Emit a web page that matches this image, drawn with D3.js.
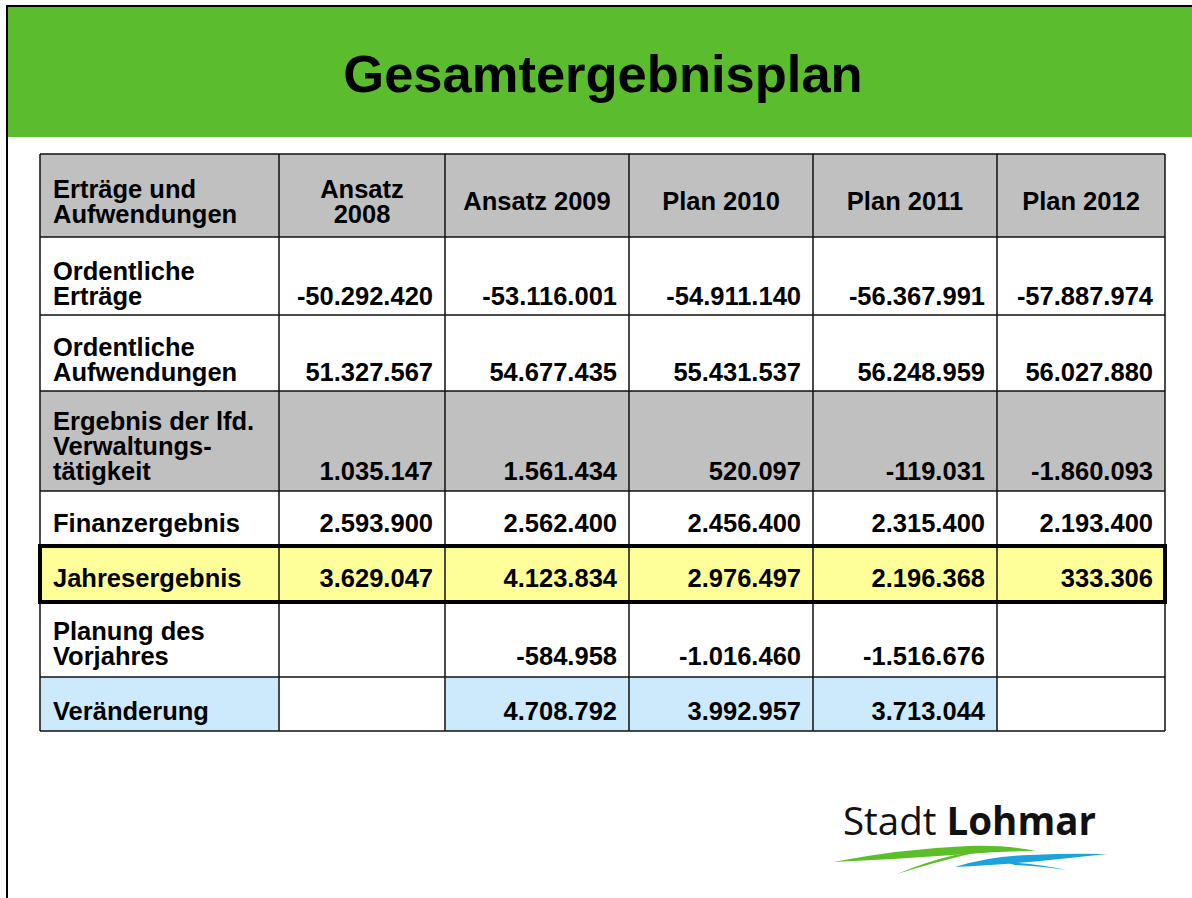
<!DOCTYPE html>
<html><head><meta charset="utf-8">
<script src="https://cdn.jsdelivr.net/npm/d3@7"></script>
<style>body{margin:0;background:#fff}svg{display:block}</style>
</head><body>
<script>
// ---- data ----
const title = "Gesamtergebnisplan";
const cornerLabel = "Erträge und\nAufwendungen";
const columns = ["Ansatz\n2008", "Ansatz 2009", "Plan 2010", "Plan 2011", "Plan 2012"];
const rowLabels = ["Ordentliche\nErträge", "Ordentliche\nAufwendungen", "Ergebnis der lfd.\nVerwaltungs-\ntätigkeit", "Finanzergebnis", "Jahresergebnis", "Planung des\nVorjahres", "Veränderung"];
const ordentlicheErtraege = [-50292420, -53116001, -54911140, -56367991, -57887974];
const ordentlicheAufwendungen = [51327567, 54677435, 55431537, 56248959, 56027880];
const ergebnisLfd = [1035147, 1561434, 520097, -119031, -1860093];
const finanzergebnis = [2593900, 2562400, 2456400, 2315400, 2193400];
const jahresergebnis = [3629047, 4123834, 2976497, 2196368, 333306];
const planungVorjahres = [null, -584958, -1016460, -1516676, null];
const veraenderung = [null, 4708792, 3992957, 3713044, null];
const logoText1 = "Stadt", logoText2 = "Lohmar";

const rows = [ordentlicheErtraege, ordentlicheAufwendungen, ergebnisLfd, finanzergebnis, jahresergebnis, planungVorjahres, veraenderung];

// ---- layout ----
const W = 1192, H = 898;
const colEdges = [40, 279, 445, 629, 813, 997, 1165];
const rowEdges = [154, 237, 315, 391, 491, 546, 602, 677, 731];
const rowPad = [10, 10, 11, 14, 15, 12, 11];
const rowFill = ["#fff", "#fff", "#c0c0c0", "#fff", "#ffff99", "#fff", "#fff"];
const FONT = "'Liberation Sans', Arial, Helvetica, sans-serif";
const FS = 25.5, LH = 25;

const loc = d3.formatLocale({decimal: ",", thousands: ".", grouping: [3], currency: ["", "€"], minus: "-"});
const fmt = loc.format(",d");

const svg = d3.select("body").append("svg").attr("width", W).attr("height", H);

// frame + title band
svg.append("rect").attr("x", 8).attr("y", 7).attr("width", W - 8).attr("height", 130).attr("fill", "#5bbd2e");
svg.append("path").attr("d", `M7,${H} V6 H${W}`).attr("fill", "none").attr("stroke", "#000").attr("stroke-width", 2);
svg.append("text").attr("x", 603).attr("y", 92).attr("text-anchor", "middle")
  .attr("font-family", FONT).attr("font-weight", "bold").attr("font-size", 52.5).attr("fill", "#000").text(title);

const g = svg.append("g");

function multiText(sel, str, x, yLast, anchor) {
  const lines = str.split("\n");
  const t = sel.append("text").attr("text-anchor", anchor)
    .attr("font-family", FONT).attr("font-weight", "bold").attr("font-size", FS).attr("fill", "#000");
  lines.forEach((l, i) => t.append("tspan").attr("x", x).attr("y", yLast - (lines.length - 1 - i) * LH).text(l));
  return t;
}
function multiTextCenter(sel, str, x, yc, anchor) {
  const lines = str.split("\n");
  const n = lines.length;
  const yLast = yc + 0.36 * FS + (n - 1) * LH / 2;
  return multiText(sel, str, x, yLast, anchor);
}

// header
g.append("rect").attr("x", colEdges[0]).attr("y", rowEdges[0]).attr("width", colEdges[6] - colEdges[0]).attr("height", rowEdges[1] - rowEdges[0]).attr("fill", "#c0c0c0");
multiTextCenter(g, cornerLabel, 53, 201, "start");
columns.forEach((c, j) => multiTextCenter(g, c, (colEdges[j + 1] + colEdges[j + 2]) / 2, 201, "middle"));

// body
rows.forEach((vals, i) => {
  const y0 = rowEdges[i + 1], y1 = rowEdges[i + 2];
  const isChange = vals === veraenderung;
  g.append("rect").attr("x", colEdges[0]).attr("y", y0).attr("width", colEdges[1] - colEdges[0]).attr("height", y1 - y0)
    .attr("fill", isChange ? "#cdeafc" : rowFill[i]);
  multiText(g, rowLabels[i], 53, y1 - rowPad[i], "start");
  vals.forEach((v, j) => {
    const x0 = colEdges[j + 1], x1 = colEdges[j + 2];
    const fill = isChange ? (v == null ? "#fff" : "#cdeafc") : rowFill[i];
    g.append("rect").attr("x", x0).attr("y", y0).attr("width", x1 - x0).attr("height", y1 - y0).attr("fill", fill);
    if (v != null) multiText(g, fmt(v), x1 - 12, y1 - rowPad[i], "end");
  });
});

// grid lines
colEdges.forEach(x => g.append("line").attr("x1", x).attr("x2", x).attr("y1", rowEdges[0]).attr("y2", rowEdges[rowEdges.length - 1]).attr("stroke", "#111").attr("stroke-width", 1.5));
rowEdges.forEach(y => g.append("line").attr("x1", colEdges[0]).attr("x2", colEdges[6]).attr("y1", y).attr("y2", y).attr("stroke", "#111").attr("stroke-width", 1.5));
g.append("rect").attr("x", colEdges[0]).attr("y", rowEdges[5]).attr("width", colEdges[6] - colEdges[0]).attr("height", rowEdges[6] - rowEdges[5])
  .attr("fill", "none").attr("stroke", "#000").attr("stroke-width", 4);

// logo
const logo = svg.append("g");
const lt = logo.append("text").attr("x", 843).attr("y", 835).attr("font-family", "'Open Sans', 'Noto Sans', sans-serif").attr("font-size", 38.5).attr("fill", "#111");
lt.append("tspan").text(logoText1 + " ");
lt.append("tspan").attr("font-weight", "bold").text(logoText2);
logo.append("path").attr("fill", "#5cbf2a")
  .attr("d", "M833,862 Q900,849 968,846 Q1010,845 1036,851 Q1000,851 968,854 Q900,859 833,862 Z");
logo.append("path").attr("fill", "#5cbf2a")
  .attr("d", "M897,874 Q925,862 955,855 L978,852 Q935,862 897,874 Z");
logo.append("path").attr("fill", "#1aa3dc")
  .attr("d", "M955,867 Q990,856 1030,855 Q1070,853 1107,854 Q1070,858 1030,862 Q990,865 955,867 Z");
logo.append("path").attr("fill", "#1aa3dc")
  .attr("d", "M1005,862 Q1040,864 1067,870 Q1040,866 1015,865 Z");
</script>
</body></html>
